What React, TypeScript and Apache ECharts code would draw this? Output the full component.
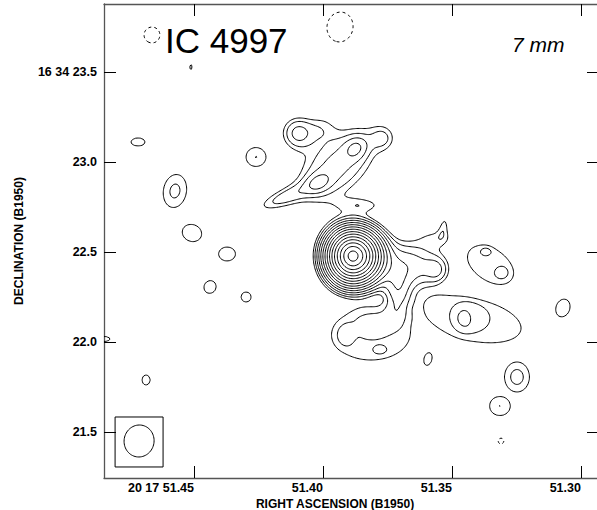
import React, { useEffect, useRef } from "react";
import * as echarts from "echarts";

// Axis ticks (RA seconds of 20h17m, Dec arcsec of +16°34')
const raTicks = [51.45, 51.4, 51.35, 51.3];
const raTickLabels = ["20 17 51.45", "51.40", "51.35", "51.30"];
const decTicks = [23.5, 23.0, 22.5, 22.0, 21.5];
const decTickLabels = ["16 34 23.5", "23.0", "22.5", "22.0", "21.5"];
const raRange = [51.293, 51.4849];
const decRange = [21.2444, 23.8778];

// Contour levels (relative units)
const contourLevels = [1, 1.41, 2, 2.83, 4, 5.66, 8, 11.3, 16, 22.6, 32, 45.3, 64, 90.5, 128];
const negativeLevels = [-1];

// Core: ra, dec, peak, scale left, right, up, down (arcsec), profile exponent
const coreSource = [51.3884, 22.4778, 158, 0.075, 0.0806, 0.0778, 0.0806, 1.5];

// Components: ra, dec, peak, sigma major ("), sigma minor ("), angle (deg), profile exponent
const armComponents = [
  [51.3946, 22.9833, 2.3, 0.189, 0.111, 42, 2],
  [51.3872, 23.0778, 1.5, 0.047, 0.039, 42, 2],
  [51.4019, 22.8833, 1.5, 0.05, 0.036, 25, 2],
  [51.4097, 23.1611, 2.2, 0.064, 0.064, 0, 2],
  [51.4155, 22.8, 1.4, 0.122, 0.036, 22, 2],
  [51.3767, 23.1333, 1.1, 0.05, 0.05, 0, 2],
  [51.4004, 23.1944, 0.8, 0.056, 0.056, 0, 2],
  [51.3849, 22.7611, 1.1, 0.1, 0.033, 0, 2],
];
const eastComponents = [
  [51.3671, 22.4222, 2.5, 0.133, 0.094, 0, 2],
  [51.3558, 22.4, 1.3, 0.05, 0.044, 90, 2],
  [51.3554, 22.5778, 0.9, 0.078, 0.039, 0, 2],
  [51.3531, 22.65, 1.0, 0.05, 0.022, 80, 2],
  [51.3349, 22.4278, 1.25, 0.156, 0.1, -35, 6],
  [51.3368, 22.5056, 0.4, 0.025, 0.019, 0, 2],
  [51.3306, 22.3833, 0.4, 0.031, 0.028, 0, 2],
  [51.3415, 22.1222, 1.25, 0.306, 0.133, -12, 6],
  [51.3426, 22.1389, 0.35, 0.098, 0.075, -10, 6],
  [51.3454, 22.1278, 0.6, 0.053, 0.042, 90, 2],
  [51.3709, 22.2611, 2.0, 0.089, 0.05, 90, 2],
  [51.3814, 22.0389, 1.25, 0.244, 0.159, 0, 6],
  [51.3915, 22.0389, 0.35, 0.063, 0.052, 90, 4],
  [51.381, 22.0889, 0.3, 0.102, 0.073, 0, 4],
  [51.3779, 21.9556, 0.3, 0.039, 0.026, 0, 4],
];
const isolatedComponents = [
  [51.4717, 23.1111, 1.25, 0.043, 0.025, 0, 8],
  [51.426, 23.0278, 1.25, 0.061, 0.058, 0, 8],
  [51.426, 23.0278, 0.17, 0.011, 0.011, 0, 2],
  [51.4574, 22.8389, 1.25, 0.102, 0.071, 80, 8],
  [51.4574, 22.8389, 0.35, 0.031, 0.022, 80, 2],
  [51.4508, 22.6056, 1.25, 0.061, 0.052, -20, 8],
  [51.4372, 22.4889, 1.25, 0.052, 0.043, 0, 8],
  [51.4438, 22.3056, 1.25, 0.04, 0.037, 60, 8],
  [51.4298, 22.25, 1.25, 0.031, 0.031, 0, 8],
  [51.4512, 23.5278, 1.25, 0.015, 0.009, 90, 8],
  [51.4686, 21.7889, 1.25, 0.031, 0.025, 90, 8],
  [51.4845, 22.0167, 1.25, 0.031, 0.015, 0, 8],
  [51.3593, 21.9056, 1.25, 0.04, 0.025, 75, 8],
  [51.307, 22.1889, 1.25, 0.056, 0.043, 70, 8],
  [51.3248, 21.8056, 1.25, 0.089, 0.074, 90, 12],
  [51.3248, 21.8056, 0.35, 0.033, 0.028, 90, 2],
  [51.3314, 21.6444, 1.25, 0.062, 0.057, 0, 12],
  [51.3314, 21.6444, 0.17, 0.011, 0.011, 0, 2],
];
const negativeComponents = [
  [51.4663, 23.7056, -1.3, 0.061, 0.061, 0, 2],
  [51.3934, 23.75, -1.3, 0.115, 0.1, 80, 2],
  [51.331, 21.45, -1.3, 0.022, 0.022, 0, 2],
];

// Beam: center ra, dec, major ("), minor ("), angle (deg); box corners
const beamEllipse = [51.4713, 21.45, 0.178, 0.167, 80];
const beamBoxRa = [51.4806, 51.462];
const beamBoxDec = [21.3056, 21.5833];

const FONT = '"Liberation Sans", Arial, Helvetica, sans-serif';
const DEC0 = ((16 + 34 / 60 + 22.5 / 3600) * Math.PI) / 180;
const RA_TO_ARCSEC = 15 * Math.cos(DEC0);

const NX = 420;
const NY = 400;

function buildGrid() {
  const ras = new Float64Array(NX);
  const decs = new Float64Array(NY);
  for (let i = 0; i < NX; i++) ras[i] = raRange[1] - ((raRange[1] - raRange[0]) * i) / (NX - 1);
  for (let j = 0; j < NY; j++) decs[j] = decRange[0] + ((decRange[1] - decRange[0]) * j) / (NY - 1);
  const field = new Float64Array(NX * NY);
  const comps = [...armComponents, ...eastComponents, ...isolatedComponents, ...negativeComponents];
  for (const [ra, dec, p, sMaj, sMin, ang, q] of comps) {
    const th = (ang * Math.PI) / 180;
    const c = Math.cos(th);
    const s = Math.sin(th);
    const reach = 5 * sMaj;
    for (let j = 0; j < NY; j++) {
      const Y = decs[j] - dec;
      if (Math.abs(Y) > reach) continue;
      for (let i = 0; i < NX; i++) {
        const X = -(ras[i] - ra) * RA_TO_ARCSEC;
        if (Math.abs(X) > reach) continue;
        const a = X * c + Y * s;
        const b = -X * s + Y * c;
        const r2 = (a * a) / (sMaj * sMaj) + (b * b) / (sMin * sMin);
        field[j * NX + i] += p * Math.exp(-0.5 * Math.pow(r2, q / 2));
      }
    }
  }
  const [cra, cdec, cp, sl, sr, su, sd, pw] = coreSource;
  for (let j = 0; j < NY; j++) {
    const Y = decs[j] - cdec;
    const sy = Y > 0 ? su : sd;
    for (let i = 0; i < NX; i++) {
      const X = -(ras[i] - cra) * RA_TO_ARCSEC;
      const sx = X < 0 ? sl : sr;
      const rho = Math.sqrt((X / sx) * (X / sx) + (Y / sy) * (Y / sy));
      field[j * NX + i] += cp * Math.exp(-Math.pow(rho, pw));
    }
  }
  return { ras, decs, field };
}

function contourAt(field: Float64Array, ras: Float64Array, decs: Float64Array, level: number) {
  const H = (NX - 1) * NY;
  const adj = new Map<number, number[]>();
  const link = (a: number, b: number) => {
    let la = adj.get(a);
    if (!la) { la = []; adj.set(a, la); }
    la.push(b);
    let lb = adj.get(b);
    if (!lb) { lb = []; adj.set(b, lb); }
    lb.push(a);
  };
  const hId = (i: number, j: number) => j * (NX - 1) + i;
  const vId = (i: number, j: number) => H + j * NX + i;
  const point = (id: number): number[] => {
    if (id < H) {
      const j = Math.floor(id / (NX - 1));
      const i = id % (NX - 1);
      const a = field[j * NX + i];
      const b = field[j * NX + i + 1];
      const t = (level - a) / (b - a);
      return [ras[i] + (ras[i + 1] - ras[i]) * t, decs[j]];
    }
    const id2 = id - H;
    const j = Math.floor(id2 / NX);
    const i = id2 % NX;
    const a = field[j * NX + i];
    const b = field[(j + 1) * NX + i];
    const t = (level - a) / (b - a);
    return [ras[i], decs[j] + (decs[j + 1] - decs[j]) * t];
  };
  for (let j = 0; j < NY - 1; j++) {
    for (let i = 0; i < NX - 1; i++) {
      const v0 = field[j * NX + i];
      const v1 = field[j * NX + i + 1];
      const v2 = field[(j + 1) * NX + i + 1];
      const v3 = field[(j + 1) * NX + i];
      const idx = (v0 >= level ? 1 : 0) | (v1 >= level ? 2 : 0) | (v2 >= level ? 4 : 0) | (v3 >= level ? 8 : 0);
      if (idx === 0 || idx === 15) continue;
      const e0 = hId(i, j);
      const e1 = vId(i + 1, j);
      const e2 = hId(i, j + 1);
      const e3 = vId(i, j);
      if (idx === 5 || idx === 10) {
        const center = (v0 + v1 + v2 + v3) / 4;
        const high = center >= level;
        if ((idx === 5) === high) {
          link(e0, e1);
          link(e2, e3);
        } else {
          link(e0, e3);
          link(e1, e2);
        }
        continue;
      }
      const crossed: number[] = [];
      if ((v0 >= level) !== (v1 >= level)) crossed.push(e0);
      if ((v1 >= level) !== (v2 >= level)) crossed.push(e1);
      if ((v3 >= level) !== (v2 >= level)) crossed.push(e2);
      if ((v0 >= level) !== (v3 >= level)) crossed.push(e3);
      if (crossed.length === 2) link(crossed[0], crossed[1]);
    }
  }
  const visited = new Set<number>();
  const lines: number[][][] = [];
  const walk = (start: number) => {
    const line: number[][] = [];
    let prev = -1;
    let cur: number | undefined = start;
    let last = start;
    while (cur !== undefined && !visited.has(cur)) {
      visited.add(cur);
      line.push(point(cur));
      last = cur;
      const nb: number[] = adj.get(cur) || [];
      let next: number | undefined = undefined;
      for (const n of nb) {
        if (n !== prev && !visited.has(n)) { next = n; break; }
      }
      prev = cur;
      cur = next;
    }
    const lnb = adj.get(last) || [];
    if (line.length > 2 && lnb.includes(start)) line.push(point(start));
    if (line.length > 1) lines.push(line);
  };
  adj.forEach((nb, id) => { if (nb.length === 1 && !visited.has(id)) walk(id); });
  adj.forEach((_nb, id) => { if (!visited.has(id)) walk(id); });
  return lines;
}

function joinLines(lines: number[][][]) {
  const out: number[][] = [];
  lines.forEach((l) => {
    l.forEach((p) => out.push(p));
    out.push([NaN, NaN]);
  });
  return out;
}

function beamData() {
  const [ra, dec, maj, min, ang] = beamEllipse;
  const th = (ang * Math.PI) / 180;
  const pts: number[][] = [];
  for (let k = 0; k <= 72; k++) {
    const t = (k * 5 * Math.PI) / 180;
    const X = (maj / 2) * Math.cos(t) * Math.cos(th) - (min / 2) * Math.sin(t) * Math.sin(th);
    const Y = (maj / 2) * Math.cos(t) * Math.sin(th) + (min / 2) * Math.sin(t) * Math.cos(th);
    pts.push([ra - X / RA_TO_ARCSEC, dec + Y]);
  }
  pts.push([NaN, NaN]);
  pts.push([beamBoxRa[0], beamBoxDec[0]], [beamBoxRa[1], beamBoxDec[0]], [beamBoxRa[1], beamBoxDec[1]], [beamBoxRa[0], beamBoxDec[1]], [beamBoxRa[0], beamBoxDec[0]]);
  return pts;
}

const labelFor = (ticks: number[], labels: string[]) => (v: number) => {
  const k = ticks.findIndex((t) => Math.abs(t - v) < 1e-6);
  return k >= 0 ? labels[k] : "";
};

export default function App() {
  const ref = useRef<HTMLDivElement>(null);
  useEffect(() => {
    if (!ref.current) return;
    const chart = echarts.init(ref.current, null, { renderer: "svg" });
    const { ras, decs, field } = buildGrid();
    const pos: number[][][] = [];
    contourLevels.forEach((lv) => contourAt(field, ras, decs, lv).forEach((l) => pos.push(l)));
    const neg: number[][][] = [];
    negativeLevels.forEach((lv) => contourAt(field, ras, decs, lv).forEach((l) => neg.push(l)));

    const axisLine = { show: true, lineStyle: { color: "#555", width: 1.3 } };
    const tickStyle = { color: "#000", width: 1 };
    const labelStyle = { fontFamily: FONT, fontWeight: "bold" as const, fontSize: 12.5, color: "#000" };
    const lineBase = {
      type: "line" as const,
      showSymbol: false,
      symbol: "none",
      silent: true,
      connectNulls: false,
      clip: true,
      animation: false,
      emphasis: { disabled: true },
    };

    chart.setOption({
      animation: false,
      backgroundColor: "#fff",
      grid: { left: 104, right: -2, top: 4, bottom: 32, containLabel: false, outerBoundsMode: "none" },
      xAxis: [
        {
          type: "value",
          min: raRange[0],
          max: raRange[1],
          inverse: true,
          position: "bottom",
          name: "RIGHT ASCENSION (B1950)",
          nameLocation: "middle",
          nameGap: 20,
          nameMoveOverlap: false,
          nameTextStyle: { ...labelStyle, fontSize: 12, padding: [0, 33, 0, 0] },
          axisLine,
          axisTick: { show: true, inside: true, length: 12, customValues: raTicks, lineStyle: tickStyle },
          axisLabel: { show: true, customValues: raTicks, formatter: labelFor(raTicks, raTickLabels), align: "right", margin: 3, ...labelStyle },
          splitLine: { show: false },
        },
        {
          type: "value",
          min: raRange[0],
          max: raRange[1],
          inverse: true,
          position: "top",
          axisLine,
          axisTick: { show: true, inside: true, length: 12, customValues: raTicks, lineStyle: tickStyle },
          axisLabel: { show: false },
          splitLine: { show: false },
        },
      ],
      yAxis: [
        {
          type: "value",
          min: decRange[0],
          max: decRange[1],
          position: "left",
          name: "DECLINATION (B1950)",
          nameLocation: "middle",
          nameGap: 79,
          nameMoveOverlap: false,
          nameRotate: 90,
          nameTextStyle: { ...labelStyle, fontSize: 12 },
          axisLine,
          axisTick: { show: true, inside: true, length: 12, customValues: decTicks, lineStyle: tickStyle },
          axisLabel: { show: true, customValues: decTicks, formatter: labelFor(decTicks, decTickLabels), margin: 7, ...labelStyle },
          splitLine: { show: false },
        },
        {
          type: "value",
          min: decRange[0],
          max: decRange[1],
          position: "right",
          axisLine,
          axisTick: { show: true, inside: true, length: 12, customValues: decTicks, lineStyle: tickStyle },
          axisLabel: { show: false },
          splitLine: { show: false },
        },
      ],
      graphic: [
        { type: "text", left: 165, top: 23, style: { text: "IC 4997", fontSize: 35, fontFamily: FONT, fill: "#000" } },
        { type: "text", left: 512, top: 34, style: { text: "7 mm", fontSize: 21, fontStyle: "italic", fontFamily: FONT, fill: "#000" } },
      ],
      series: [
        { ...lineBase, name: "contours", data: joinLines(pos), lineStyle: { color: "#000", width: 1 } },
        { ...lineBase, name: "negative", data: joinLines(neg), lineStyle: { color: "#000", width: 1, type: [3, 3] } },
        { ...lineBase, name: "beam", data: beamData(), lineStyle: { color: "#000", width: 1 } },
      ],
    });
    return () => chart.dispose();
  }, []);
  return <div ref={ref} style={{ position: "absolute", left: 0, top: 0, width: 597, height: 510, background: "#fff" }} />;
}
